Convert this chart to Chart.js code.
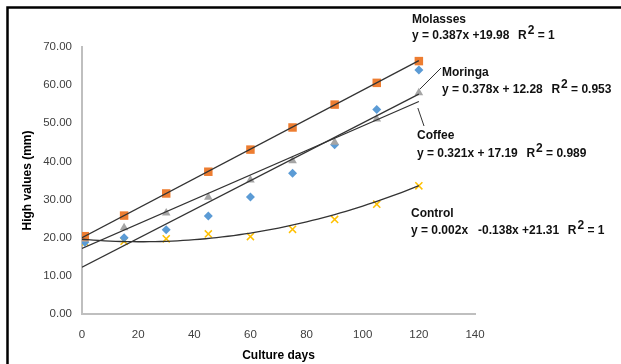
<!DOCTYPE html>
<html>
<head>
<meta charset="utf-8">
<script src="https://cdn.jsdelivr.net/npm/chart.js@4.4.0/dist/chart.umd.min.js"></script>
<style>
  html, body { margin: 0; padding: 0; background: #fff; }
  #growthChart { display: block; }
</style>
</head>
<body>
<canvas id="growthChart" width="621" height="364"></canvas>
<script>
// culture days at which height was measured
const cultureDays = [1, 15, 30, 45, 60, 75, 90, 105, 120];

const molassesHeights = [20.4, 25.8, 31.6, 37.3, 43.1, 48.9, 54.9, 60.6, 66.3];
const moringaHeights = [19.6, 22.6, 26.5, 30.6, 35.1, 40.2, 45.0, 51.1, 58.0];
const coffeeHeights = [18.8, 20.0, 22.1, 25.7, 30.7, 36.9, 44.4, 53.6, 64.0];
const controlHeights = [18.8, 19.1, 19.7, 21.0, 20.3, 22.2, 24.8, 28.8, 33.6];

// axis ticks
const xTicks = [0, 20, 40, 60, 80, 100, 120, 140];
const yTicks = [0, 10, 20, 30, 40, 50, 60, 70];

// linear trendlines as printed on the figure: [slope, intercept]
const molassesTrend = [0.387, 19.98];
const moringaTrend = [0.378, 12.28];
const coffeeTrend = [0.321, 17.19];
// control curve as drawn (printed equation is rounded): [a, b, c]
const controlTrend = [0.0015, -0.063, 19.6];
const trendRange = [0, 120];

// annotation texts
const seriesNames = ['Molasses', 'Moringa', 'Coffee', 'Control'];
const equationTexts = ['y = 0.387x +19.98', 'y = 0.378x + 12.28', 'y = 0.321x + 17.19', 'y = 0.002x   -0.138x +21.31'];
const rSquaredTexts = ['= 1', '= 0.953', '= 0.989', '= 1'];

const FONT = "'Liberation Sans', Arial, sans-serif";

function linePoints(trend) {
  return trendRange.map((x) => ({ x: x, y: trend[0] * x + trend[1] }));
}

const controlCurve = [];
for (let x = trendRange[0]; x <= trendRange[1]; x += 2) {
  controlCurve.push({ x: x, y: controlTrend[0] * x * x + controlTrend[1] * x + controlTrend[2] });
}

function points(values) {
  return cultureDays.map((d, i) => ({ x: d, y: values[i] }));
}

function trendDataset(data) {
  return {
    data: data,
    showLine: true,
    borderColor: '#333333',
    borderWidth: 1.3,
    pointRadius: 0,
    fill: false,
    order: 0
  };
}

// frame + trendline labels
const annotationPlugin = {
  id: 'annotations',
  afterDraw(chart) {
    const ctx = chart.ctx;
    const xs = chart.scales.x;
    const ys = chart.scales.y;
    ctx.save();

    // black frame on top and left
    ctx.strokeStyle = '#000';
    ctx.lineWidth = 2.5;
    ctx.beginPath();
    ctx.moveTo(7.5, 364);
    ctx.lineTo(7.5, 7.5);
    ctx.lineTo(621, 7.5);
    ctx.stroke();

    // labels: [x, name baseline, equation baseline]
    const spots = [[412, 23, 39], [442, 76, 93], [417, 139, 157], [411, 217, 234]];
    ctx.fillStyle = '#111';
    ctx.font = 'bold 12px ' + FONT;
    ctx.textBaseline = 'alphabetic';
    spots.forEach((p, i) => {
      ctx.fillText(seriesNames[i], p[0], p[1]);
      let x = p[0];
      ctx.fillText(equationTexts[i], x, p[2]);
      x += ctx.measureText(equationTexts[i] + '  ').width + 2;
      ctx.fillText('R', x, p[2]);
      x += ctx.measureText('R').width + 1;
      ctx.fillText('2', x, p[2] - 5);
      x += ctx.measureText('2 ').width;
      ctx.fillText(rSquaredTexts[i], x, p[2]);
    });

    // leader lines from labels to trendline ends
    const endX = xs.getPixelForValue(trendRange[1]);
    const moringaEnd = ys.getPixelForValue(moringaTrend[0] * trendRange[1] + moringaTrend[1]);
    const coffeeEnd = ys.getPixelForValue(coffeeTrend[0] * trendRange[1] + coffeeTrend[1]);
    ctx.strokeStyle = '#333';
    ctx.lineWidth = 1;
    ctx.beginPath();
    ctx.moveTo(441, 68);
    ctx.lineTo(endX + 1, moringaEnd - 5);
    ctx.moveTo(endX - 1, coffeeEnd + 6.5);
    ctx.lineTo(424, 126);
    ctx.stroke();
    ctx.restore();
  }
};

const tickFont = { family: FONT, size: 11.5 };
const titleFont = { family: FONT, size: 12, weight: 'bold' };

new Chart(document.getElementById('growthChart').getContext('2d'), {
  type: 'scatter',
  data: {
    datasets: [
      trendDataset(linePoints(molassesTrend)),
      trendDataset(linePoints(moringaTrend)),
      trendDataset(linePoints(coffeeTrend)),
      trendDataset(controlCurve),
      {
        label: 'Molasses',
        data: points(molassesHeights),
        pointStyle: 'rect',
        pointRadius: 6,
        backgroundColor: '#ED7D31',
        borderColor: '#ED7D31',
        borderWidth: 0,
        order: 1
      },
      {
        label: 'Moringa',
        data: points(moringaHeights),
        pointStyle: 'triangle',
        pointRadius: 5,
        backgroundColor: '#A5A5A5',
        borderColor: '#A5A5A5',
        borderWidth: 0,
        order: 1
      },
      {
        label: 'Coffee',
        data: points(coffeeHeights),
        pointStyle: 'rectRot',
        pointRadius: 4.5,
        backgroundColor: '#5B9BD5',
        borderColor: '#5B9BD5',
        borderWidth: 0,
        order: 1
      },
      {
        label: 'Control',
        data: points(controlHeights),
        pointStyle: 'crossRot',
        pointRadius: 5,
        backgroundColor: '#FFC000',
        borderColor: '#FFC000',
        borderWidth: 1.5,
        order: 1
      }
    ]
  },
  options: {
    responsive: false,
    animation: false,
    devicePixelRatio: 1,
    layout: { padding: { left: 0, top: 47, right: 146, bottom: 0 } },
    plugins: {
      legend: { display: false },
      tooltip: { enabled: false }
    },
    scales: {
      x: {
        type: 'linear',
        min: xTicks[0],
        max: xTicks[xTicks.length - 1],
        afterBuildTicks: (scale) => { scale.ticks = xTicks.map((v) => ({ value: v })); },
        afterFit: (scale) => { scale.height = 50; },
        grid: { display: false, drawTicks: false },
        border: { display: true, color: '#bfbfbf', width: 2 },
        ticks: { padding: 14, color: '#404040', font: tickFont },
        title: {
          display: true,
          text: 'Culture days',
          color: '#000',
          font: titleFont,
          padding: { top: 0, bottom: 1 }
        }
      },
      y: {
        type: 'linear',
        min: yTicks[0],
        max: yTicks[yTicks.length - 1],
        afterBuildTicks: (scale) => { scale.ticks = yTicks.map((v) => ({ value: v })); },
        afterFit: (scale) => { scale.width = 82; },
        grid: { display: false, drawTicks: false },
        border: { display: true, color: '#bfbfbf', width: 2 },
        ticks: {
          padding: 10,
          color: '#404040',
          font: tickFont,
          callback: (v) => Number(v).toFixed(2)
        },
        title: {
          display: true,
          text: 'High values (mm)',
          color: '#000',
          font: titleFont,
          padding: { top: 20, bottom: 0 }
        }
      }
    }
  },
  plugins: [annotationPlugin]
});
</script>
</body>
</html>
